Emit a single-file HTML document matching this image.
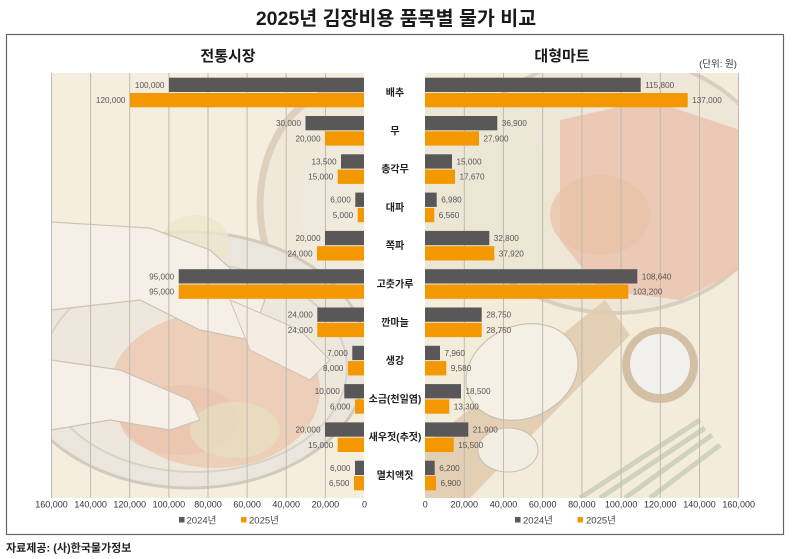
<!DOCTYPE html>
<html><head><meta charset="utf-8"><style>
html,body{margin:0;padding:0;background:#fff;}
svg{display:block;}
text{font-family:"Liberation Sans","Noto Sans CJK KR",sans-serif;}
.dl{font-size:8.2px;fill:#555;}
.tk{font-size:9px;fill:#333;}
.cat{font-size:10px;font-weight:bold;fill:#222;}
.lg{font-size:9.5px;fill:#444;}
</style></head><body>
<svg width="792" height="559" viewBox="0 0 792 559" xmlns="http://www.w3.org/2000/svg">
<defs>
<clipPath id="cl"><rect x="51" y="73" width="313" height="425"/></clipPath>
<clipPath id="cr"><rect x="425" y="73" width="314" height="425"/></clipPath>
</defs>
<rect width="792" height="559" fill="#fff"/>
<text x="396" y="25" text-anchor="middle" font-size="19.5" font-weight="bold" fill="#1a1a1a">2025년 김장비용 품목별 물가 비교</text>
<rect x="6.5" y="34.5" width="777" height="500" fill="#fff" stroke="#666" stroke-width="1.2"/>
<text x="228" y="61" text-anchor="middle" font-size="15" font-weight="bold" fill="#1a1a1a">전통시장</text>
<text x="562" y="61" text-anchor="middle" font-size="15" font-weight="bold" fill="#1a1a1a">대형마트</text>
<text x="718" y="67" text-anchor="middle" font-size="9.5" fill="#333">(단위: 원)</text>

<!-- left illustration -->
<g clip-path="url(#cl)">
<rect x="51" y="73" width="313" height="425" fill="#f5eedf"/>
<g opacity="0.7">
<ellipse cx="345" cy="205" rx="85" ry="115" fill="#ede6d8" stroke="#cdbba3" stroke-width="7" opacity="0.8"/>
<ellipse cx="360" cy="215" rx="60" ry="90" fill="#eee9dd"/>
<ellipse cx="190" cy="360" rx="178" ry="128" fill="#e6e3dd" stroke="#c4bbb0" stroke-width="3"/>
<ellipse cx="195" cy="368" rx="152" ry="104" fill="#ebe5db" stroke="#d0c7bb" stroke-width="2"/>
<ellipse cx="215" cy="390" rx="105" ry="78" fill="#eab89d" opacity="0.8"/>
<ellipse cx="180" cy="420" rx="60" ry="35" fill="#e6b095" opacity="0.6"/>
<ellipse cx="235" cy="430" rx="45" ry="28" fill="#e3dcb2" opacity="0.7"/>
<ellipse cx="195" cy="245" rx="35" ry="30" fill="#ebe4c3" opacity="0.8"/>
<path d="M51 222 L150 228 L210 250 L265 300 L250 340 L200 330 L140 300 L51 310 Z" fill="#f6f0eb" stroke="#bfb1a6" stroke-width="1.2"/>
<path d="M51 360 L120 370 L190 400 L200 420 L170 430 L110 420 L51 430 Z" fill="#f6f0eb" stroke="#bfb1a6" stroke-width="1.2"/>
<path d="M230 300 L300 330 L330 360 L310 380 L250 350 Z" fill="#f5ece6" stroke="#bfb1a6" stroke-width="1"/>
</g>
</g>

<!-- right illustration -->
<g clip-path="url(#cr)">
<rect x="425" y="73" width="314" height="425" fill="#f4ecdb"/>
<g opacity="0.7">
<ellipse cx="615" cy="185" rx="160" ry="128" fill="#ece5d8" stroke="#cfc4b6" stroke-width="4"/>
<path d="M425 85 L520 110 L560 180 L545 260 L480 290 L425 280 Z" fill="#e9e6d2"/>
<path d="M560 120 L650 100 L740 130 L740 270 L680 300 L600 290 L560 240 Z" fill="#e8b49b" opacity="0.85"/>
<ellipse cx="600" cy="215" rx="50" ry="40" fill="#e6ae93" opacity="0.7"/>
<polygon points="425,445 605,300 630,335 470,498 425,498" fill="#d9bf9f" opacity="0.9"/>
<ellipse cx="522" cy="372" rx="58" ry="46" transform="rotate(-25 522 372)" fill="#f6f3ec" stroke="#b9ae9e" stroke-width="1.2"/>
<ellipse cx="508" cy="450" rx="30" ry="22" fill="#f3efe6" stroke="#b9ae9e" stroke-width="1"/>
<circle cx="660" cy="365" r="38" fill="#c6ac8e"/>
<circle cx="660" cy="364" r="30" fill="#f1f2f4"/>
<g stroke="#c2c8b0" stroke-width="5" fill="none">
<path d="M580 498 L700 420"/><path d="M600 498 L705 428"/><path d="M625 498 L712 435"/><path d="M650 498 L720 445"/>
</g>
</g>
</g>

<!-- gridlines -->
<g stroke="#bfbab2" stroke-width="1">
<line x1="51.5" y1="73" x2="51.5" y2="498"/>
<line x1="90.6" y1="73" x2="90.6" y2="498"/>
<line x1="129.7" y1="73" x2="129.7" y2="498"/>
<line x1="168.9" y1="73" x2="168.9" y2="498"/>
<line x1="208" y1="73" x2="208" y2="498"/>
<line x1="247.1" y1="73" x2="247.1" y2="498"/>
<line x1="286.2" y1="73" x2="286.2" y2="498"/>
<line x1="325.4" y1="73" x2="325.4" y2="498"/>
<line x1="464.3" y1="73" x2="464.3" y2="498"/>
<line x1="503.5" y1="73" x2="503.5" y2="498"/>
<line x1="542.7" y1="73" x2="542.7" y2="498"/>
<line x1="581.9" y1="73" x2="581.9" y2="498"/>
<line x1="621.1" y1="73" x2="621.1" y2="498"/>
<line x1="660.3" y1="73" x2="660.3" y2="498"/>
<line x1="699.5" y1="73" x2="699.5" y2="498"/>
<line x1="738.5" y1="73" x2="738.5" y2="498"/>
</g>

<!-- left bars -->
<g fill="#595757">
<rect x="169" y="77.7" width="195" height="14.3"/>
<rect x="305.5" y="116" width="58.5" height="14.3"/>
<rect x="341" y="154.3" width="23" height="14.3"/>
<rect x="355.3" y="192.6" width="8.7" height="14.3"/>
<rect x="325" y="230.9" width="39" height="14.3"/>
<rect x="178.7" y="269.2" width="185.3" height="14.3"/>
<rect x="317.3" y="307.5" width="46.7" height="14.3"/>
<rect x="352.3" y="345.8" width="11.7" height="14.3"/>
<rect x="344.3" y="384.1" width="19.7" height="14.3"/>
<rect x="325" y="422.4" width="39" height="14.3"/>
<rect x="355" y="460.7" width="9" height="14.3"/>
</g>
<g fill="#f39800">
<rect x="130" y="93" width="234" height="14.3"/>
<rect x="325" y="131.3" width="39" height="14.3"/>
<rect x="337.7" y="169.6" width="26.3" height="14.3"/>
<rect x="357.7" y="207.9" width="6.3" height="14.3"/>
<rect x="317" y="246.2" width="47" height="14.3"/>
<rect x="178.7" y="284.5" width="185.3" height="14.3"/>
<rect x="317.3" y="322.8" width="46.7" height="14.3"/>
<rect x="348" y="361.1" width="16" height="14.3"/>
<rect x="355" y="399.4" width="9" height="14.3"/>
<rect x="337.7" y="437.7" width="26.3" height="14.3"/>
<rect x="354" y="476" width="10" height="14.3"/>
</g>
<g class="dl" text-anchor="end">
<text x="164.5" y="87.8">100,000</text>
<text x="125.5" y="103.1">120,000</text>
<text x="301" y="126.1">30,000</text>
<text x="320.5" y="141.4">20,000</text>
<text x="336.5" y="164.4">13,500</text>
<text x="333.2" y="179.7">15,000</text>
<text x="350.8" y="202.7">6,000</text>
<text x="353.2" y="218">5,000</text>
<text x="320.5" y="241">20,000</text>
<text x="312.5" y="256.3">24,000</text>
<text x="174.2" y="279.3">95,000</text>
<text x="174.2" y="294.6">95,000</text>
<text x="312.8" y="317.6">24,000</text>
<text x="312.8" y="332.9">24,000</text>
<text x="347.8" y="355.9">7,000</text>
<text x="343.5" y="371.2">8,000</text>
<text x="339.8" y="394.2">10,000</text>
<text x="350.5" y="409.5">6,000</text>
<text x="320.5" y="432.5">20,000</text>
<text x="333.2" y="447.8">15,000</text>
<text x="350.5" y="470.8">6,000</text>
<text x="349.5" y="486.1">6,500</text>
</g>

<!-- right bars -->
<g fill="#595757">
<rect x="425" y="77.7" width="215.7" height="14.3"/>
<rect x="425" y="116" width="72.3" height="14.3"/>
<rect x="425" y="154.3" width="27" height="14.3"/>
<rect x="425" y="192.6" width="11.7" height="14.3"/>
<rect x="425" y="230.9" width="64.3" height="14.3"/>
<rect x="425" y="269.2" width="212.3" height="14.3"/>
<rect x="425" y="307.5" width="56.7" height="14.3"/>
<rect x="425" y="345.8" width="15" height="14.3"/>
<rect x="425" y="384.1" width="36" height="14.3"/>
<rect x="425" y="422.4" width="43.3" height="14.3"/>
<rect x="425" y="460.7" width="9.7" height="14.3"/>
</g>
<g fill="#f39800">
<rect x="425" y="93" width="262.7" height="14.3"/>
<rect x="425" y="131.3" width="54" height="14.3"/>
<rect x="425" y="169.6" width="30" height="14.3"/>
<rect x="425" y="207.9" width="9.3" height="14.3"/>
<rect x="425" y="246.2" width="69.3" height="14.3"/>
<rect x="425" y="284.5" width="203.3" height="14.3"/>
<rect x="425" y="322.8" width="56.7" height="14.3"/>
<rect x="425" y="361.1" width="21.3" height="14.3"/>
<rect x="425" y="399.4" width="24.3" height="14.3"/>
<rect x="425" y="437.7" width="28.7" height="14.3"/>
<rect x="425" y="476" width="11" height="14.3"/>
</g>
<g class="dl">
<text x="645.2" y="87.8">115,800</text>
<text x="692.2" y="103.1">137,000</text>
<text x="501.8" y="126.1">36,900</text>
<text x="483.5" y="141.4">27,900</text>
<text x="456.5" y="164.4">15,000</text>
<text x="459.5" y="179.7">17,670</text>
<text x="441.2" y="202.7">6,980</text>
<text x="438.8" y="218">6,560</text>
<text x="493.8" y="241">32,800</text>
<text x="498.8" y="256.3">37,920</text>
<text x="641.8" y="279.3">108,640</text>
<text x="632.8" y="294.6">103,200</text>
<text x="486.2" y="317.6">28,750</text>
<text x="486.2" y="332.9">28,750</text>
<text x="444.5" y="355.9">7,960</text>
<text x="450.8" y="371.2">9,580</text>
<text x="465.5" y="394.2">18,500</text>
<text x="453.8" y="409.5">13,300</text>
<text x="472.8" y="432.5">21,900</text>
<text x="458.2" y="447.8">15,500</text>
<text x="439.2" y="470.8">6,200</text>
<text x="440.5" y="486.1">6,900</text>
</g>

<!-- categories -->
<g class="cat" text-anchor="middle">
<text x="395" y="96">배추</text>
<text x="395" y="134.3">무</text>
<text x="395" y="172.6">총각무</text>
<text x="395" y="210.9">대파</text>
<text x="395" y="249.2">쪽파</text>
<text x="395" y="287.5">고춧가루</text>
<text x="395" y="325.8">깐마늘</text>
<text x="395" y="364.1">생강</text>
<text x="395" y="402.4">소금(천일염)</text>
<text x="395" y="440.7">새우젓(추젓)</text>
<text x="395" y="479">멸치액젓</text>
</g>

<!-- ticks -->
<g class="tk" text-anchor="middle">
<text x="51.5" y="507.5">160,000</text>
<text x="90.6" y="507.5">140,000</text>
<text x="129.7" y="507.5">120,000</text>
<text x="168.9" y="507.5">100,000</text>
<text x="208" y="507.5">80,000</text>
<text x="247.1" y="507.5">60,000</text>
<text x="286.2" y="507.5">40,000</text>
<text x="325.4" y="507.5">20,000</text>
<text x="364.5" y="507.5">0</text>
<text x="425.3" y="507.5">0</text>
<text x="464.3" y="507.5">20,000</text>
<text x="503.5" y="507.5">40,000</text>
<text x="542.7" y="507.5">60,000</text>
<text x="581.9" y="507.5">80,000</text>
<text x="621.1" y="507.5">100,000</text>
<text x="660.3" y="507.5">120,000</text>
<text x="699.5" y="507.5">140,000</text>
<text x="738.7" y="507.5">160,000</text>
</g>

<!-- legends -->
<rect x="179" y="517" width="5.5" height="5.5" fill="#595757"/>
<text class="lg" x="186.5" y="523.5">2024년</text>
<rect x="241" y="517" width="5.5" height="5.5" fill="#f39800"/>
<text class="lg" x="249" y="523.5">2025년</text>
<rect x="515" y="517" width="5.5" height="5.5" fill="#595757"/>
<text class="lg" x="523" y="523.5">2024년</text>
<rect x="577.5" y="517" width="5.5" height="5.5" fill="#f39800"/>
<text class="lg" x="586" y="523.5">2025년</text>

<text x="6" y="551.5" font-size="11" font-weight="bold" fill="#222">자료제공: (사)한국물가정보</text>
</svg>
</body></html>
